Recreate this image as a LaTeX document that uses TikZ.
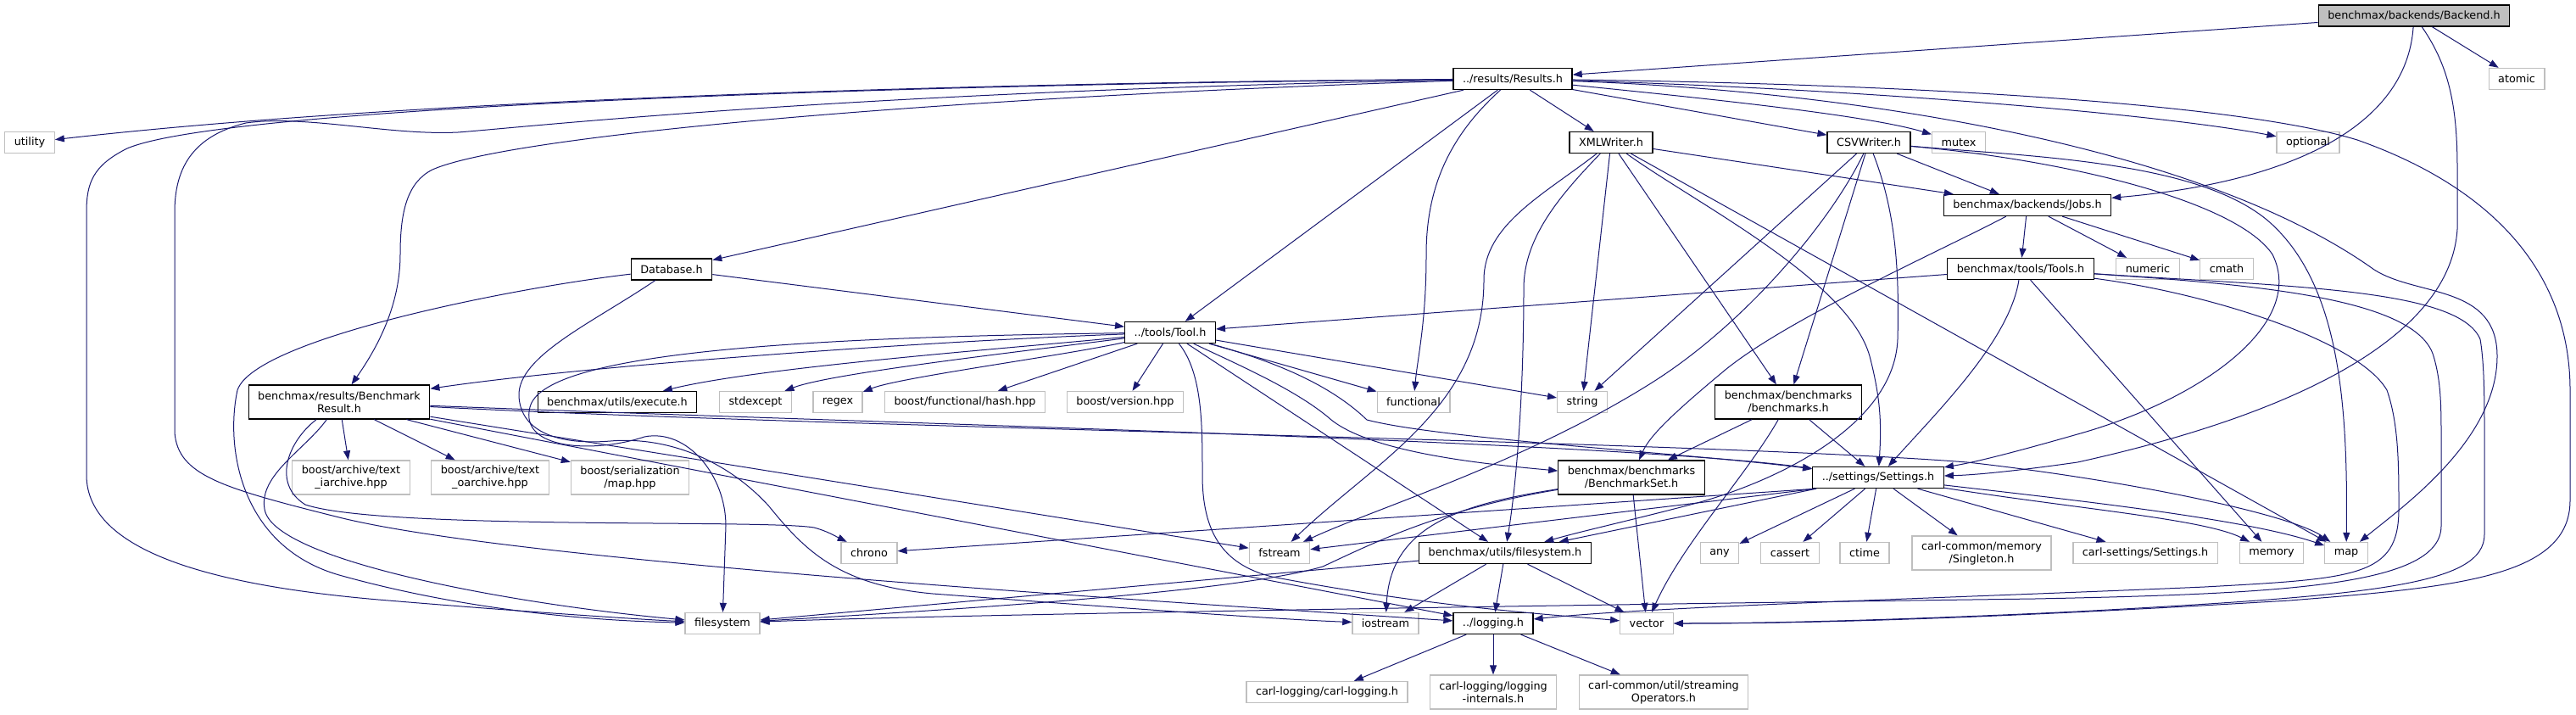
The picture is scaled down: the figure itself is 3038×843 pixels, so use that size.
\documentclass[tikz,border=0pt]{standalone}
\usepackage{fontspec}
\setmainfont{DejaVu Sans}
\usetikzlibrary{arrows.meta}
\definecolor{edgec}{HTML}{191970}
\definecolor{sysgray}{HTML}{BFBFBF}
\definecolor{rootgray}{HTML}{BFBFBF}
\begin{document}
\begin{tikzpicture}[x=1pt,y=-1pt,
  base/.style={rectangle, font=\fontsize{12.8}{15}\selectfont, inner xsep=11pt, inner ysep=3pt,
    minimum height=25pt, align=center, line width=1.3pt, fill=white},
  sys/.style={base, draw=sysgray},
  loc/.style={base, draw=black},
  root/.style={base, draw=black, fill=rootgray},
  two/.style={minimum height=40pt},
  e/.style={draw=edgec, line width=1pt, -{Triangle[length=11pt,width=8pt]}}]
\fill[white] (0,0) rectangle (3038,843);
\useasboundingbox (0,0) rectangle (3038,843);

% nodes
\node[root] (BK) at (2847,18.5) {benchmax/backends/Backend.h};
\node[sys] (AT) at (2968,93) {atomic};
\node[loc] (RS) at (1784,93) {../results/Results.h};
\node[sys] (UT) at (35,168) {utility};
\node[loc] (XW) at (1900,168) {XMLWriter.h};
\node[loc] (CW) at (2204,168) {CSVWriter.h};
\node[sys] (MX) at (2310,168) {mutex};
\node[sys] (OP) at (2722,168) {optional};
\node[loc] (JB) at (2391,242) {benchmax/backends/Jobs.h};
\node[loc] (DB) at (792,317.5) {Database.h};
\node[loc] (TS) at (2383,317) {benchmax/tools/Tools.h};
\node[sys] (NU) at (2533,317) {numeric};
\node[sys] (CM) at (2626,317) {cmath};
\node[loc] (TL) at (1380,392) {../tools/Tool.h};
\node[loc,two] (BR) at (400,474) {benchmax/results/Benchmark\\Result.h};
\node[loc] (EX) at (728,474) {benchmax/utils/execute.h};
\node[sys] (SE) at (891,474) {stdexcept};
\node[sys] (RG) at (988,474) {regex};
\node[sys] (BH) at (1138,474) {boost/functional/hash.hpp};
\node[sys] (BV) at (1327,474) {boost/version.hpp};
\node[sys] (FN) at (1667,474) {functional};
\node[sys] (ST) at (1866,474) {string};
\node[loc,two] (BM) at (2109,474) {benchmax/benchmarks\\/benchmarks.h};
\node[loc,two] (BS) at (1924,563) {benchmax/benchmarks\\/BenchmarkSet.h};
\node[loc] (SS) at (2215,563) {../settings/Settings.h};
\node[sys,two] (TI) at (414,563) {boost/archive/text\\\_iarchive.hpp};
\node[sys,two] (TO) at (578,563) {boost/archive/text\\\_oarchive.hpp};
\node[sys,two] (SM) at (743,563) {boost/serialization\\/map.hpp};
\node[sys] (CH) at (1025,652) {chrono};
\node[sys] (FS) at (1509,652) {fstream};
\node[loc] (UF) at (1775,652) {benchmax/utils/filesystem.h};
\node[sys] (AN) at (2028,652) {any};
\node[sys] (CA) at (2111,652) {cassert};
\node[sys] (CT) at (2199,652) {ctime};
\node[sys,two] (SG) at (2337,652) {carl-common/memory\\/Singleton.h};
\node[sys] (CS) at (2530,652) {carl-settings/Settings.h};
\node[sys] (ME) at (2679,652) {memory};
\node[sys] (MP) at (2767,652) {map};
\node[sys] (FSY) at (852,735) {filesystem};
\node[sys] (IO) at (1634,735) {iostream};
\node[loc] (LG) at (1761,735) {../logging.h};
\node[sys] (VE) at (1942,735) {vector};
\node[sys] (CL) at (1565,816) {carl-logging/carl-logging.h};
\node[sys,two] (LI) at (1761,816) {carl-logging/logging\\-internals.h};
\node[sys,two] (SO) at (1962,816) {carl-common/util/streaming\\Operators.h};

% Backend.h
\draw[e] (BK) -- (RS);
\draw[e] (BK) -- (AT);
\draw[e] (BK) .. controls (2838,150) and (2700,215) .. (JB);
\draw[e] (BK) .. controls (2890,80) and (2898,130) .. (2898,200) -- (2898,270) .. controls (2890,400) and (2700,490) .. (2450,545) .. controls (2380,555) and (2330,560) .. (SS);

% Results.h
\draw[e] (RS) .. controls (1200,97) and (500,115) .. (UT);
\draw[e] (RS) .. controls (1000,100) and (260,128) .. (150,175) .. controls (110,195) and (102,215) .. (102,250) -- (102,560) .. controls (102,650) and (250,690) .. (446,707) .. controls (600,720) and (750,730) .. (FSY);
\draw[e] (RS) .. controls (1000,108) and (620,150) .. (540,156) .. controls (460,160) and (360,135) .. (290,145) .. controls (230,160) and (206,195) .. (206,250) -- (206,510) .. controls (210,560) and (260,575) .. (400,610) .. controls (600,660) and (1300,705) .. (LG);
\draw[e] (RS) .. controls (1100,115) and (600,160) .. (510,200) .. controls (480,215) and (472,250) .. (472,300) .. controls (472,360) and (445,410) .. (BR);
\draw[e] (RS) -- (DB);
\draw[e] (RS) -- (TL);
\draw[e] (RS) .. controls (1710,160) and (1682,220) .. (1682,300) .. controls (1682,380) and (1672,420) .. (FN);
\draw[e] (RS) -- (XW);
\draw[e] (RS) -- (CW);
\draw[e] (RS) .. controls (2000,115) and (2200,135) .. (MX);
\draw[e] (RS) .. controls (2200,105) and (2550,135) .. (OP);
\draw[e] (RS) .. controls (2200,108) and (2600,175) .. (2800,318) .. controls (2850,350) and (2945,335) .. (2945,420) .. controls (2945,520) and (2830,600) .. (MP);
\draw[e] (RS) .. controls (2300,100) and (2650,125) .. (2780,165) .. controls (2950,225) and (3031,330) .. (3031,460) -- (3031,590) .. controls (3031,680) and (2900,692) .. (2700,708) .. controls (2300,732) and (2100,735) .. (VE);

% XMLWriter.h
\draw[e] (XW) -- (JB);
\draw[e] (XW) .. controls (1820,230) and (1750,265) .. (1750,330) .. controls (1750,480) and (1620,545) .. (FS);
\draw[e] (XW) .. controls (1840,230) and (1797,280) .. (1797,340) .. controls (1797,450) and (1790,560) .. (UF);
\draw[e] (XW) -- (ST);
\draw[e] (XW) -- (BM);
\draw[e] (XW) -- (MP);
\draw[e] (XW) .. controls (2000,240) and (2180,330) .. (2205,420) .. controls (2218,470) and (2219,500) .. (SS);

% CSVWriter.h
\draw[e] (CW) -- (JB);
\draw[e] (CW) -- (ST);
\draw[e] (CW) .. controls (2160,260) and (2060,380) .. (1950,450) .. controls (1800,545) and (1620,600) .. (FS);
\draw[e] (CW) -- (BM);
\draw[e] (CW) .. controls (2236,250) and (2240,320) .. (2238,400) .. controls (2234,500) and (2100,565) .. (2005,592) .. controls (1930,612) and (1870,625) .. (UF);
\draw[e] (CW) .. controls (2400,185) and (2600,190) .. (2680,265) .. controls (2760,340) and (2769,480) .. (MP);
\draw[e] (CW) .. controls (2450,190) and (2640,240) .. (2680,300) .. controls (2720,380) and (2600,470) .. (2450,512) .. controls (2380,532) and (2330,545) .. (SS);

% Jobs.h
\draw[e] (JB) -- (TS);
\draw[e] (JB) -- (NU);
\draw[e] (JB) -- (CM);
\draw[e] (JB) .. controls (2280,300) and (2100,380) .. (2030,440) .. controls (1970,490) and (1945,515) .. (BS);

% Database.h
\draw[e] (DB) -- (TL);
\draw[e] (DB) .. controls (600,340) and (300,400) .. (280,460) .. controls (265,530) and (285,645) .. (400,678) .. controls (550,720) and (700,732) .. (FSY);
\draw[e] (DB) .. controls (700,380) and (610,420) .. (612,467) .. controls (614,510) and (660,525) .. (720,520) .. controls (790,514) and (860,545) .. (907,597) .. controls (950,650) and (990,690) .. (1100,700) .. controls (1300,715) and (1500,730) .. (IO);

% Tools.h
\draw[e] (TS) -- (TL);
\draw[e] (TS) .. controls (2370,400) and (2290,480) .. (SS);
\draw[e] (TS) -- (ME);
\draw[e] (TS) .. controls (2600,345) and (2780,400) .. (2815,460) .. controls (2829,500) and (2829,550) .. (2829,600) .. controls (2829,680) and (2780,682) .. (2600,692) .. controls (2300,705) and (1950,715) .. (LG);
\draw[e] (TS) .. controls (2650,335) and (2850,350) .. (2870,420) .. controls (2879,450) and (2879,480) .. (2879,520) -- (2879,620) .. controls (2879,690) and (2700,700) .. (2400,706) .. controls (1800,714) and (1100,725) .. (FSY);
\draw[e] (TS) .. controls (2700,338) and (2900,340) .. (2925,400) .. controls (2930,430) and (2930,470) .. (2930,520) -- (2930,630) .. controls (2930,690) and (2800,702) .. (2450,721) .. controls (2200,733) and (2050,735) .. (VE);

% Tool.h
\draw[e] (TL) .. controls (1100,402) and (700,430) .. (BR);
\draw[e] (TL) .. controls (1200,410) and (900,432) .. (EX);
\draw[e] (TL) .. controls (1200,415) and (980,440) .. (SE);
\draw[e] (TL) .. controls (1250,420) and (1060,445) .. (RG);
\draw[e] (TL) -- (BH);
\draw[e] (TL) -- (BV);
\draw[e] (TL) -- (FN);
\draw[e] (TL) -- (ST);
\draw[e] (TL) .. controls (1460,430) and (1530,460) .. (1570,495) .. controls (1620,535) and (1760,548) .. (BS);
\draw[e] (TL) .. controls (1480,420) and (1560,445) .. (1612,495) .. controls (1700,518) and (2000,535) .. (SS);
\draw[e] (TL) -- (UF);
\draw[e] (TL) .. controls (1418,440) and (1418,500) .. (1418,560) .. controls (1418,625) and (1440,665) .. (1500,680) .. controls (1700,718) and (1850,726) .. (VE);
\draw[e] (TL) .. controls (900,398) and (640,420) .. (625,480) .. controls (612,530) and (700,535) .. (760,515) .. controls (810,505) and (856,560) .. (856,620) -- (FSY);

% BenchmarkResult.h
\draw[e] (BR) -- (TI);
\draw[e] (BR) -- (TO);
\draw[e] (BR) -- (SM);
\draw[e] (BR) .. controls (1000,498) and (1900,520) .. (SS);
\draw[e] (BR) .. controls (1000,505) and (2000,520) .. (2320,545) .. controls (2500,565) and (2700,605) .. (MP);
\draw[e] (BR) -- (FS);
\draw[e] (BR) -- (LG);
\draw[e] (BR) .. controls (340,520) and (320,570) .. (360,595) .. controls (450,625) and (900,612) .. (960,622) .. controls (975,626) and (985,632) .. (CH);
\draw[e] (BR) .. controls (360,530) and (305,560) .. (312,600) .. controls (320,660) and (600,712) .. (FSY);

% benchmarks.h
\draw[e] (BM) -- (BS);
\draw[e] (BM) -- (SS);
\draw[e] (BM) .. controls (2060,560) and (1985,640) .. (VE);

% BenchmarkSet.h
\draw[e] (BS) -- (VE);
\draw[e] (BS) .. controls (1720,595) and (1640,620) .. (IO);
\draw[e] (BS) .. controls (1700,600) and (1620,640) .. (1560,668) .. controls (1450,700) and (1100,720) .. (FSY);

% Settings.h
\draw[e] ([xshift=5pt]SS.south west) -- (CH);
\draw[e] ([xshift=5pt]SS.south west) -- (FS);
\draw[e] ([xshift=5pt]SS.south west) -- (UF);
\draw[e] (SS) -- (AN);
\draw[e] (SS) -- (CA);
\draw[e] (SS) -- (CT);
\draw[e] (SS) -- (SG);
\draw[e] (SS) -- (CS);
\draw[e] (SS) .. controls (2450,600) and (2600,612) .. (ME);
\draw[e] (SS) .. controls (2450,590) and (2650,612) .. (MP);

% filesystem.h
\draw[e] (UF) -- (FSY);
\draw[e] (UF) -- (IO);
\draw[e] (UF) -- (LG);
\draw[e] (UF) -- (VE);

% logging.h
\draw[e] (LG) -- (CL);
\draw[e] (LG) -- (LI);
\draw[e] (LG) -- (SO);
\end{tikzpicture}
\end{document}
